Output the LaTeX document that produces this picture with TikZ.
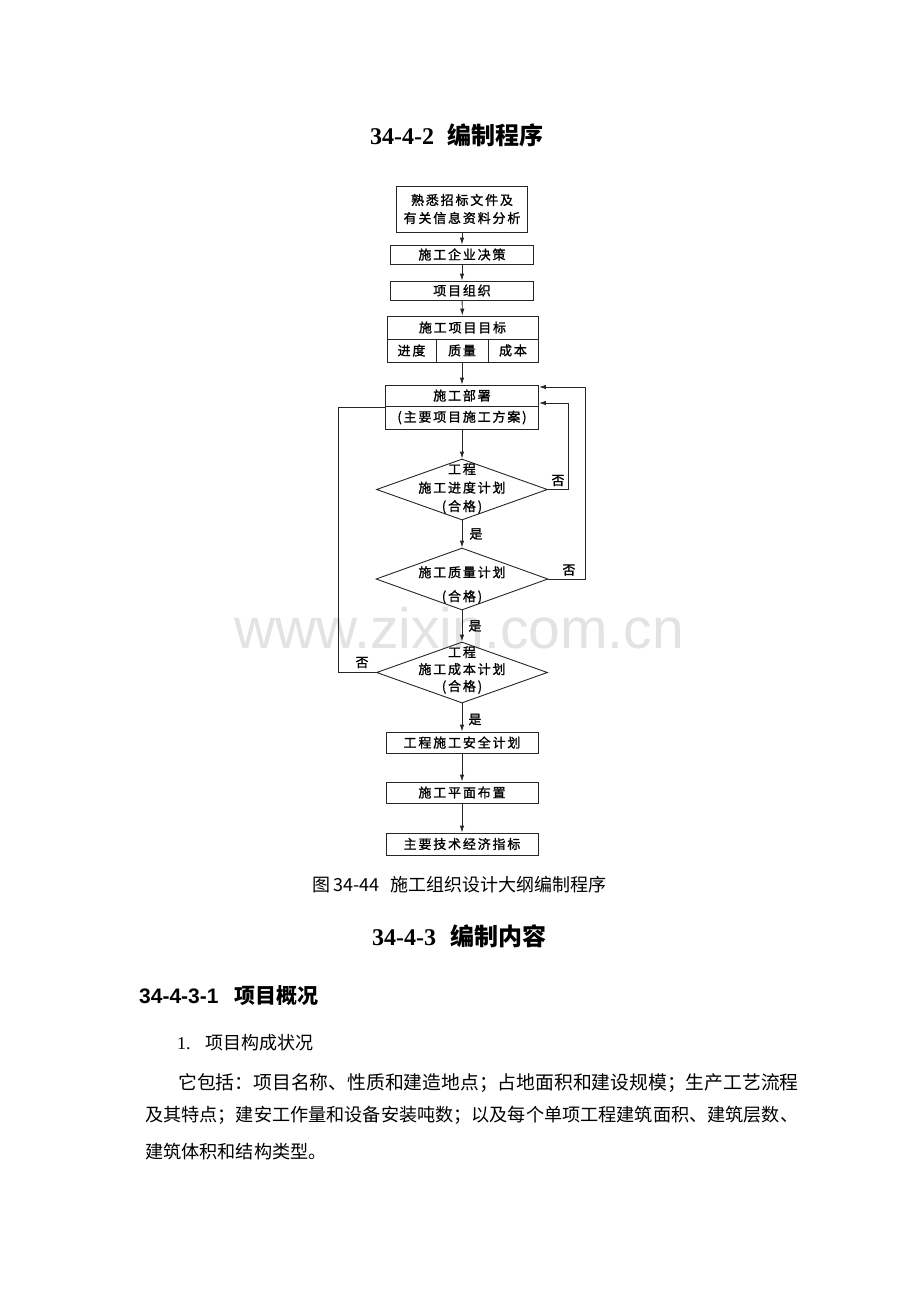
\documentclass[tikz,border=0pt]{standalone}
\usepackage{fontspec}
\setmainfont{Liberation Serif}
\setsansfont{Liberation Sans}
\newfontfamily\cjk{Noto Sans CJK SC}
\newfontfamily\cjkflow[LetterSpace=14,FakeBold=1.2]{Noto Sans CJK SC}
\usetikzlibrary{shapes.geometric,arrows.meta}

\tikzset{
  blk/.style={draw=black!85,line width=0.9pt,inner sep=0pt,align=center,
    font=\cjkflow\fontsize{13}{18}\selectfont},
  dia/.style={draw=black!85,line width=0.9pt,diamond,inner sep=0pt,
    minimum width=171,minimum height=61},
  dtxt/.style={inner sep=0pt,align=center,font=\cjkflow\fontsize{13}{18.5}\selectfont},
  lbl/.style={inner sep=1pt,font=\cjkflow\fontsize{13}{15}\selectfont},
  wire/.style={draw=black!85,line width=0.9pt},
}

\begin{document}
\begin{tikzpicture}[x=1pt,y=-1pt,>={Latex[length=7pt,width=4.5pt]}]
\useasboundingbox[fill=white] (0,0) rectangle (920,1302);

% watermark
\node[anchor=base,inner sep=0pt,text=black!11,font=\sffamily\fontsize{57}{57}\selectfont] (wm) at (459,648) {www.zixin.com.cn};

% heading
\node[anchor=base west,inner sep=0pt] (head) at (370,144.5) {\fontsize{24}{24}\selectfont\bfseries 34-4-2\hspace{13pt}\cjk 编制程序};

% boxes
\node[blk,minimum width=131,minimum height=46] (fam) at (462,209) {熟悉招标文件及\\有关信息资料分析};
\node[blk,minimum width=143,minimum height=19] (dec) at (462,254.5) {施工企业决策};
\node[blk,minimum width=143,minimum height=19] (org) at (462,290.5) {项目组织};
\node[blk,minimum width=151,minimum height=23] (tgt) at (462.5,327.5) {施工项目目标};
\node[blk,minimum width=49,minimum height=23] (tgta) at (411.5,350.5) {进度};
\node[blk,minimum width=52,minimum height=23] (tgtb) at (462,350.5) {质量};
\node[blk,minimum width=50,minimum height=23] (tgtc) at (513,350.5) {成本};
\node[blk,minimum width=153,minimum height=21] (dep) at (462,395.5) {施工部署};
\node[blk,minimum width=153,minimum height=23] (dep2) at (462,417.5) {(主要项目施工方案)};

% checks
\node[dia] (chk1) at (462,489.5) {};
\node[dtxt] (chk1t) at (462,488.5) {工程\\施工进度计划\\(合格)};
\node[dia,minimum width=172,minimum height=62] (chk2) at (462,579) {};
\node[dtxt] (chk2t) at (462,585) {施工质量计划\\[5.5pt](合格)};
\node[dia] (chk3) at (462,672.5) {};
\node[dtxt,font=\cjkflow\fontsize{13}{17}\selectfont] (chk3t) at (462,670) {工程\\施工成本计划\\(合格)};

\node[blk,minimum width=152,minimum height=21] (saf) at (462,742.5) {工程施工安全计划};
\node[blk,minimum width=152,minimum height=21] (lay) at (462,792.5) {施工平面布置};
\node[blk,minimum width=152,minimum height=22] (idx) at (462,844) {主要技术经济指标};

% arrows
\draw[wire,->] (fam) -- (dec);
\draw[wire,->] (dec) -- (org);
\draw[wire,->] (org) -- (tgt);
\draw[wire,->] (tgtb) -- (dep);
\draw[wire,->] (dep2) -- (chk1);
\draw[wire,->] (chk1) -- node[lbl,right=6pt] {是} (chk2);
\draw[wire,->] (chk2) -- node[lbl,right=5pt] {是} (chk3);
\draw[wire,->] (chk3) -- node[lbl,right=5pt,yshift=-2pt] {是} (saf);
\draw[wire,->] (saf) -- (lay);
\draw[wire,->] (lay) -- (idx);

% loops back
\draw[wire,->] (chk1.east) -- node[lbl,above=2pt] {否} ++(20,0) |- ([yshift=-7.5pt]dep.east);
\draw[wire,->] (chk2.east) -- node[lbl,above=2pt,xshift=2pt] {否} ++(37,0) |- ([yshift=8.5pt]dep.east);
\draw[wire] (chk3.west) -- node[lbl,above=3pt,xshift=5pt] {否} ++(-38,0) |- ([yshift=-2pt]dep2.north west);

% caption
\node[anchor=base west,inner sep=0pt] (cap) at (312,891.5) {\cjk\fontsize{18}{18}\selectfont 图\hspace{3pt}34-44\hspace{11pt}施工组织设计大纲编制程序};

% text below
\node[anchor=base west,inner sep=0pt] (head2) at (372,945) {\fontsize{24}{24}\selectfont\bfseries 34-4-3\hspace{14pt}\cjk 编制内容};
\node[anchor=base west,inner sep=0pt] (head3) at (139,1003.5) {\sffamily\bfseries\fontsize{21}{21}\selectfont 34-4-3-1\hspace{15.5pt}\cjk 项目概况};
\node[anchor=base west,inner sep=0pt] (item) at (177,1049) {\fontsize{18}{18}\selectfont 1.\hspace{14.5pt}\cjk 项目构成状况};
\node[anchor=base west,inner sep=0pt] (para1) at (178,1089) {\cjk\fontsize{18.8}{18.8}\selectfont 它包括：项目名称、性质和建造地点；占地面积和建设规模；生产工艺流程};
\node[anchor=base west,inner sep=0pt] (para2) at (145,1121) {\cjk\fontsize{18.14}{18.14}\selectfont 及其特点；建安工作量和设备安装吨数；以及每个单项工程建筑面积、建筑层数、};
\node[anchor=base west,inner sep=0pt] (para3) at (145,1158) {\cjk\fontsize{18.14}{18.14}\selectfont 建筑体积和结构类型。};

\end{tikzpicture}
\end{document}
